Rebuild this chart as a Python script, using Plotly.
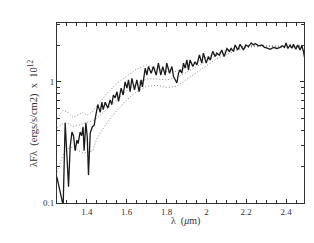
import plotly.graph_objects as go

# Observed spectrum (solid)
obs_wl = [1.249, 1.261, 1.274, 1.281, 1.291, 1.300, 1.308, 1.316, 1.325, 1.333, 1.341, 1.350,
          1.356, 1.366, 1.374, 1.381, 1.386, 1.395, 1.402, 1.408, 1.417, 1.427, 1.437, 1.442,
          1.455, 1.467, 1.475, 1.482, 1.492, 1.505, 1.517, 1.525, 1.533, 1.542, 1.551, 1.559,
          1.572, 1.582, 1.592, 1.601, 1.609, 1.617, 1.626, 1.639, 1.651, 1.662, 1.672, 1.679,
          1.693, 1.701, 1.709, 1.723, 1.734, 1.748, 1.759, 1.771, 1.781, 1.793, 1.801, 1.815,
          1.827, 1.835, 1.852, 1.860, 1.868, 1.877, 1.885, 1.893, 1.902, 1.910, 1.918, 1.932,
          1.943, 1.952, 1.965, 1.977, 1.985, 1.999, 2.010, 2.019, 2.032, 2.044, 2.052, 2.065,
          2.077, 2.089, 2.103, 2.116, 2.124, 2.136, 2.144, 2.158, 2.169, 2.178, 2.186, 2.198,
          2.211, 2.225, 2.236, 2.245, 2.262, 2.279, 2.292, 2.306, 2.320, 2.337, 2.354, 2.370,
          2.382, 2.392, 2.400, 2.409, 2.420, 2.429, 2.437, 2.449, 2.459, 2.470, 2.479, 2.487,
          2.495]
obs_flux = [0.165, 0.136, 0.106, 0.095, 0.46, 0.22, 0.136, 0.29, 0.385, 0.36, 0.27, 0.33,
            0.31, 0.385, 0.36, 0.425, 0.27, 0.46, 0.35, 0.17, 0.38, 0.425, 0.44, 0.50,
            0.65, 0.56, 0.68, 0.59, 0.68, 0.61, 0.71, 0.65, 0.78, 0.74, 0.83, 0.69,
            0.89, 0.78, 1.00, 0.89, 1.04, 0.83, 1.07, 0.86, 1.04, 0.83, 1.04, 0.91,
            1.30, 1.14, 1.34, 1.18, 1.34, 1.14, 1.43, 1.14, 1.34, 1.14, 1.43, 1.18,
            1.34, 1.11, 0.98, 1.18, 1.26, 1.18, 1.43, 1.30, 1.52, 1.26, 1.52, 1.34,
            1.47, 1.38, 1.67, 1.43, 1.73, 1.43, 1.62, 1.52, 1.79, 1.62, 1.73, 1.66,
            1.84, 1.62, 1.89, 1.79, 1.89, 1.79, 2.02, 1.84, 2.05, 1.93, 1.84, 2.02,
            1.96, 2.10, 2.02, 2.08, 1.99, 2.02, 1.93, 1.90, 1.86, 1.93, 1.89, 1.93,
            1.99, 1.93, 2.10, 1.89, 2.02, 1.90, 2.05, 1.86, 2.02, 1.84, 1.99, 1.79,
            1.52]

# Model curves (dotted)
mod_wl = [1.25, 1.28, 1.30, 1.33, 1.36, 1.38, 1.40, 1.43, 1.45, 1.50, 1.55, 1.60, 1.65,
          1.70, 1.75, 1.80, 1.85, 1.90, 1.95, 2.00, 2.05, 2.10, 2.15, 2.20, 2.25, 2.30,
          2.35, 2.40, 2.45, 2.49]
mod_upper = [0.50, 0.58, 0.57, 0.51, 0.54, 0.56, 0.53, 0.57, 0.63, 0.80, 0.97, 1.12, 1.28,
             1.38, 1.28, 1.22, 1.22, 1.32, 1.45, 1.60, 1.72, 1.82, 1.92, 1.99, 2.02, 2.00,
             1.98, 1.97, 1.98, 2.00]
mod_middle = [0.42, 0.45, 0.46, 0.43, 0.44, 0.45, 0.46, 0.48, 0.50, 0.60, 0.72, 0.85, 0.97,
              1.06, 1.06, 1.04, 1.08, 1.20, 1.35, 1.50, 1.65, 1.76, 1.87, 1.94, 1.98, 1.98,
              1.96, 1.95, 1.96, 1.97]
mod_lower = [0.18, 0.25, 0.28, 0.29, 0.27, 0.26, 0.26, 0.27, 0.34, 0.46, 0.58, 0.71, 0.83,
             0.92, 0.94, 0.90, 0.92, 1.05, 1.20, 1.38, 1.55, 1.68, 1.82, 1.92, 1.97, 1.97,
             1.95, 1.94, 1.95, 1.96]

x_ticks = [1.4, 1.6, 1.8, 2.0, 2.2, 2.4]
x_labels = ["1.4", "1.6", "1.8", "2", "2.2", "2.4"]
y_ticks = [0.1, 1]
y_labels = ["0.1", "1"]
y_minor = [0.2, 0.3, 0.4, 0.5, 0.6, 0.7, 0.8, 0.9, 2, 3]

FONT = "Liberation Serif"
TXT = "#333333"

fig = go.Figure()
for ys in (mod_upper, mod_middle, mod_lower):
    fig.add_trace(go.Scatter(x=mod_wl, y=ys, mode="lines",
                             line=dict(color="#888888", width=1, dash="1px,2px"),
                             showlegend=False, hoverinfo="skip"))
fig.add_trace(go.Scatter(x=obs_wl, y=obs_flux, mode="lines",
                         line=dict(color="#1a1a1a", width=1.3),
                         showlegend=False, hoverinfo="skip"))

axis_common = dict(showline=True, linecolor=TXT, linewidth=1, mirror="ticks",
                   ticks="inside", ticklen=4, tickcolor=TXT, showgrid=False,
                   zeroline=False, automargin=False,
                   tickfont=dict(family=FONT, size=9, color=TXT))

fig.update_xaxes(range=[1.25, 2.49], tickvals=x_ticks, ticktext=x_labels,
                 minor=dict(dtick=0.05, tick0=1.25, ticks="inside", ticklen=3, tickcolor=TXT),
                 **axis_common)
fig.update_yaxes(type="log", range=[-1, 0.487], tickvals=y_ticks, ticktext=y_labels,
                 minor=dict(tickvals=y_minor, ticks="inside", ticklen=3, tickcolor=TXT),
                 **axis_common)

fig.add_annotation(text="λ  (<i>μ</i>m)", xref="paper", yref="paper", x=0.52, y=-0.1,
                   xanchor="center", yanchor="middle", showarrow=False,
                   font=dict(family=FONT, size=10, color=TXT))
fig.add_annotation(text="λFλ  (ergs/s/cm2)  x  10<sup>12</sup>", xref="paper", yref="paper",
                   x=-0.097, y=0.5, xanchor="center", yanchor="middle", textangle=-90,
                   showarrow=False, font=dict(family=FONT, size=10.5, color=TXT))

fig.update_layout(width=306, height=235, margin=dict(l=49, r=10, t=15, b=40),
                  paper_bgcolor="white", plot_bgcolor="white")

fig.write_html("out.html")
